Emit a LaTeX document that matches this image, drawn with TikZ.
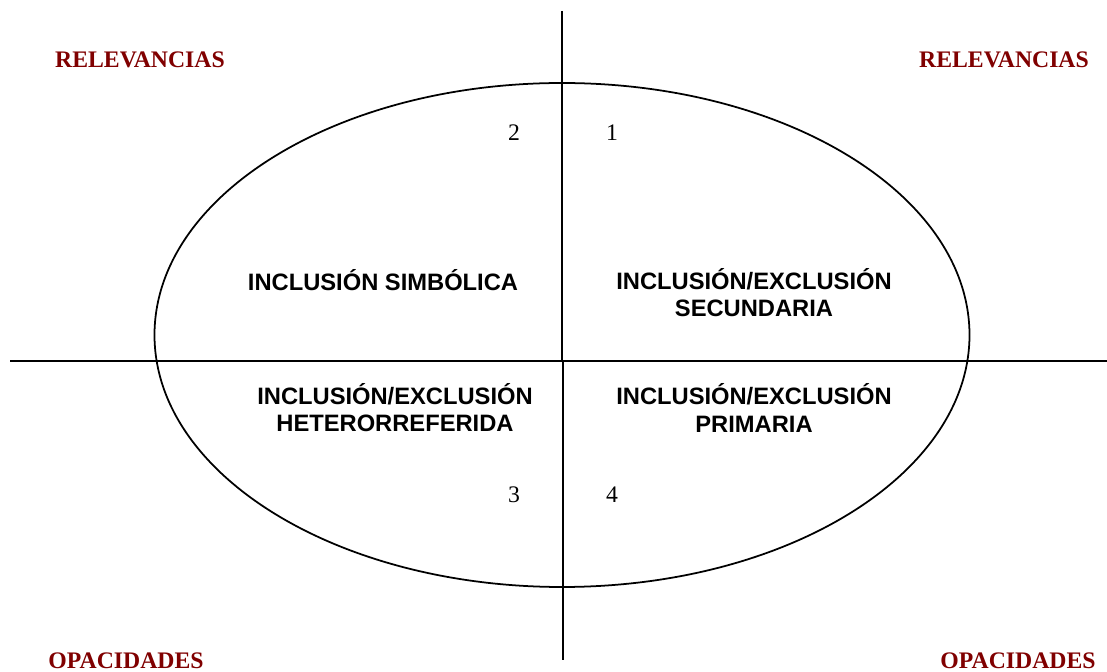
\documentclass[tikz,border=0pt]{standalone}
\usepackage{fontspec}
\newfontfamily\romfont{Liberation Serif}
\newfontfamily\palofont{Liberation Sans}
\usepackage{tikz}
\definecolor{granate}{RGB}{128,0,0}
\tikzset{
	polo/.style={text=granate, font=\romfont\bfseries\fontsize{13.5}{15}\selectfont, inner sep=0pt},
	cuadrante/.style={align=center, font=\palofont\bfseries\fontsize{13.5}{15.4}\selectfont, inner sep=0pt},
	numero/.style={font=\romfont\fontsize{13.5}{15}\selectfont, inner sep=0pt}
}

\begin{document}
\begin{tikzpicture}[x=0.02cm, y=-0.02cm]
		\useasboundingbox (0,0) rectangle (1107,672);
		%Ejes
		\coordinate (arriba) at (562,11);
		\coordinate (centro) at (562,361);
		\coordinate (centrob) at (563,361);
		\coordinate (abajo) at (563,660);
		\coordinate (izq) at (10,361);
		\coordinate (der) at (1107,361);
		%Elipse
		\draw [line width=1pt] (562,335) ellipse (407.5 and 252);
		\draw [line width=0.8pt] (arriba) -- (centro);
		\draw [line width=0.8pt] (centrob) -- (abajo);
		\draw [line width=0.8pt] (izq) -- (der);
		%Polos
		\node [polo] (rel1) at (140,60) {RELEVANCIAS};
		\node [polo] (rel2) at (1004,60) {RELEVANCIAS};
		\node [polo] (opa1) at (126,661) {OPACIDADES};
		\node [polo] (opa2) at (1018,661) {OPACIDADES};
		%Numeros
		\node [numero] (n2) at (514,133) {2};
		\node [numero] (n1) at (612,133) {1};
		\node [numero] (n3) at (514,495) {3};
		\node [numero] (n4) at (612,495) {4};
		%Cuadrantes
		\node [cuadrante] (simb) at (383,280) {INCLUSIÓN SIMBÓLICA};
		\node [cuadrante] (secu) at (754,293) {INCLUSIÓN/EXCLUSIÓN\\SECUNDARIA};
		\node [cuadrante] (hete) at (395,408) {INCLUSIÓN/EXCLUSIÓN\\HETERORREFERIDA};
		\node [cuadrante] (prim) at (754,408) {INCLUSIÓN/EXCLUSIÓN\\PRIMARIA};
	\end{tikzpicture}
\end{document}
